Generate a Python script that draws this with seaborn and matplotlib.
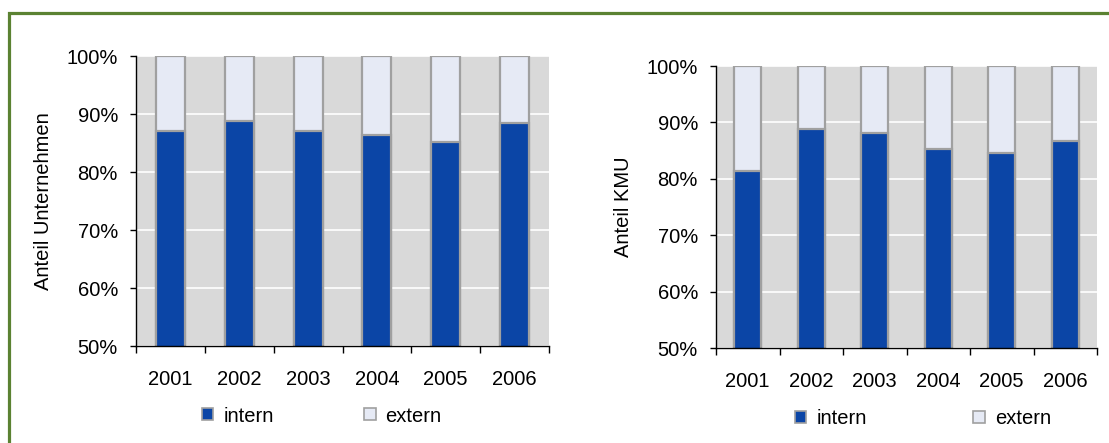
import matplotlib
matplotlib.use("Agg")
import matplotlib.pyplot as plt
from matplotlib.patches import Patch, Rectangle
from matplotlib.ticker import FixedLocator, PercentFormatter
import seaborn as sns
import pandas as pd

# data (share in %)
years = ["2001", "2002", "2003", "2004", "2005", "2006"]
intern_unternehmen = [87.1, 88.8, 87.1, 86.4, 85.1, 88.5]
intern_kmu = [81.4, 88.8, 88.2, 85.3, 84.6, 86.7]
total = [100, 100, 100, 100, 100, 100]

col_intern = "#0b45a6"
col_extern = "#e6eaf5"
col_edge = "#a0a0a0"
fs = 14.5

sns.set_style("white")
plt.rcParams["font.family"] = ["Liberation Sans", "DejaVu Sans"]
plt.rcParams["text.color"] = "black"
plt.rcParams["axes.labelcolor"] = "black"
plt.rcParams["xtick.color"] = "black"
plt.rcParams["ytick.color"] = "black"

fig = plt.figure(figsize=(11.09, 4.43), dpi=100)
W, H = 1109, 443


def px_axes(x0, y0, x1, y1):
    return fig.add_axes([x0 / W, 1 - y1 / H, (x1 - x0) / W, (y1 - y0) / H])


def draw_panel(ax, intern, ylabel):
    df = pd.DataFrame({"year": years, "intern": intern, "total": total})
    sns.barplot(data=df, x="year", y="total", color=col_extern, width=0.42,
                edgecolor=col_edge, linewidth=1.6, saturation=1, ax=ax)
    sns.barplot(data=df, x="year", y="intern", color=col_intern, width=0.42,
                edgecolor=col_edge, linewidth=1.6, saturation=1, ax=ax)
    ax.set_facecolor("#d9d9d9")
    ax.set_ylim(50, 100)
    ax.set_xlim(-0.5, 5.5)
    ax.yaxis.set_major_locator(FixedLocator([50, 60, 70, 80, 90, 100]))
    ax.yaxis.set_major_formatter(PercentFormatter(decimals=0))
    ax.grid(axis="y", color="white", linewidth=1.2)
    ax.set_axisbelow(True)
    for s in ["top", "right"]:
        ax.spines[s].set_visible(False)
    for s in ["left", "bottom"]:
        ax.spines[s].set_color("black")
        ax.spines[s].set_linewidth(1)
    ax.tick_params(axis="y", which="major", left=True, length=4.5, width=1,
                   color="black", labelsize=fs, pad=8.5)
    ax.xaxis.set_minor_locator(FixedLocator([-0.5, 0.5, 1.5, 2.5, 3.5, 4.5, 5.5]))
    ax.tick_params(axis="x", which="major", bottom=False, labelsize=fs, pad=14)
    ax.tick_params(axis="x", which="minor", bottom=True, length=5, width=1, color="black")
    ax.set_xlabel("")
    ax.set_ylabel(ylabel, fontsize=fs, labelpad=10)


ax1 = px_axes(136, 56, 549, 346)
draw_panel(ax1, intern_unternehmen, "Anteil Unternehmen")
ax2 = px_axes(716, 66, 1097, 348)
draw_panel(ax2, intern_kmu, "Anteil KMU")

handles = [Patch(facecolor=col_intern, edgecolor=col_edge, linewidth=1.2, label="intern"),
           Patch(facecolor=col_extern, edgecolor=col_edge, linewidth=1.2, label="extern")]

fig.legend(handles=handles, loc="center", bbox_to_anchor=(322 / W, 1 - 416 / H),
           ncol=2, frameon=False, fontsize=fs, handlelength=0.55, handleheight=0.55,
           handletextpad=0.5, columnspacing=4.5)
fig.legend(handles=handles, loc="center", bbox_to_anchor=(923 / W, 1 - 419 / H),
           ncol=2, frameon=False, fontsize=fs, handlelength=0.55, handleheight=0.55,
           handletextpad=0.5, columnspacing=5.3)

# green frame (left and top edges visible)
fig.patches.append(Rectangle((9 / W, -0.05), 1.2, 1.05 - 13 / H,
                             transform=fig.transFigure, fill=False,
                             edgecolor="#5b8232", linewidth=2.3))

fig.savefig("out.png", dpi=100)
